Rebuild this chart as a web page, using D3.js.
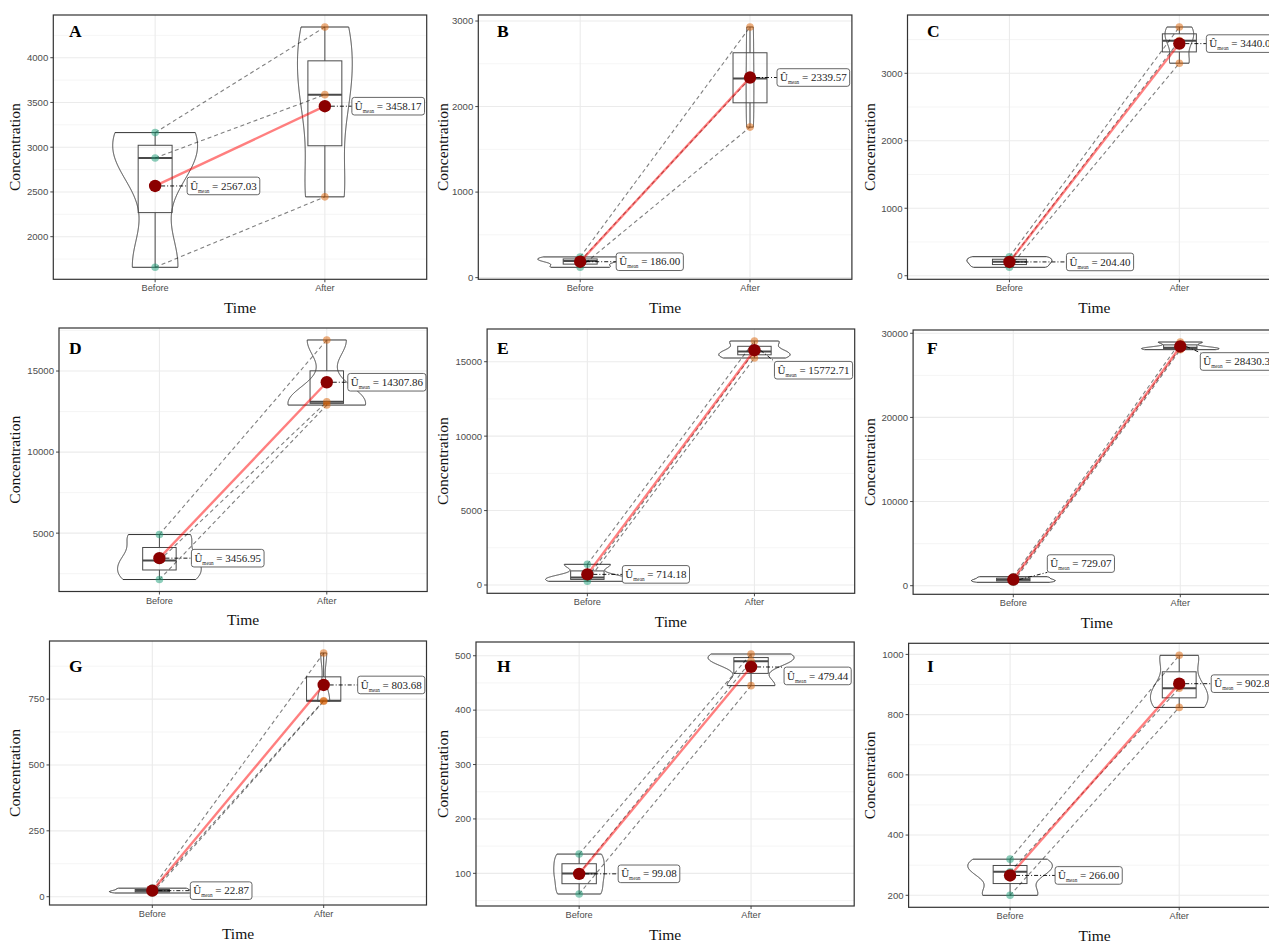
<!DOCTYPE html>
<html><head><meta charset="utf-8">
<script src="https://cdn.jsdelivr.net/npm/d3@7"></script>
<style>body{margin:0;background:#fff} svg{display:block}</style>
</head><body>
<svg id="chart" width="1269" height="942"></svg>
<script>
// ---------------- data ----------------
const panelLetters = ["A","B","C","D","E","F","G","H","I"];
const categories = ["Before","After"];
const beforeValues = [
  [1658, 2880, 3163],
  [121, 195, 242],
  [125, 206.2, 282],
  [2140, 3315.9, 4915],
  [250, 501.5, 1391],
  [406, 712.2, 1069],
  [14, 22.26, 32.35],
  [62, 99.84, 135.4],
  [200, 278, 320]
];
const afterValues = [
  [2445, 3587, 4343],
  [1760, 2328, 2930],
  [3150, 3484, 3686],
  [12900, 13108.6, 16915],
  [15248, 15680, 16390],
  [28050, 28279, 28962],
  [742, 744, 925],
  [445, 490.1, 503.2],
  [824, 887.4, 997]
];
const beforeMeans = [2567.03, 186.00, 204.40, 3456.95, 714.18, 729.07, 22.87, 99.08, 266.00];
const afterMeans  = [3458.17, 2339.57, 3440.00, 14307.86, 15772.71, 28430.30, 803.68, 479.44, 902.80];
const yTicks = [
  [2000, 2500, 3000, 3500, 4000],
  [0, 1000, 2000, 3000],
  [0, 1000, 2000, 3000],
  [5000, 10000, 15000],
  [0, 5000, 10000, 15000],
  [0, 10000, 20000, 30000],
  [0, 250, 500, 750],
  [100, 200, 300, 400, 500],
  [200, 400, 600, 800, 1000]
];
const xTitle = "Time";
const yTitle = "Concentration";

// ---------------- layout ----------------
const frames = [
  {l:53.3, t:15,    r:426.7,  b:279.3},
  {l:478.3,t:15,    r:851.9,  b:279.3},
  {l:907.5,t:15,    r:1281.3, b:279.3},
  {l:59.0, t:328,   r:427.2,  b:591.5},
  {l:487.1,t:329,   r:854.7,  b:593.3},
  {l:913.1,t:330,   r:1280.5, b:594.3},
  {l:49.5, t:641,   r:426.5,  b:905},
  {l:476.0,t:642,   r:854.2,  b:906},
  {l:908.6,t:643.3, r:1280.7, b:907.3}
];
const labelDx = [[32,27],[36,27],[57,27],[32,21],[35,20],[34,20],[38,34],[39,33],[45,32]];
const labelDy = [[0,0],[0,0],[0,0],[0,0],[0,20],[-16,15],[0,0],[0,9],[0,0]];
const letterX = [69, 497, 927];
const letterY = [36.7, 354.3, 671.7];
const yTitleX = [15, 442.7, 869.3];

const SERIF = "'Liberation Serif','DejaVu Serif',serif";
const SANS = "'Liberation Sans',Arial,sans-serif";
const groupColors = ["#1b9e77", "#d95f02"];

const svg = d3.select("#chart");
svg.append("rect").attr("width",1269).attr("height",942).attr("fill","#fff");

function bwNrd0(v){
  const s = d3.deviation(v);
  const sorted = v.slice().sort(d3.ascending);
  const iqr = d3.quantileSorted(sorted,0.75) - d3.quantileSorted(sorted,0.25);
  let lo = Math.min(s, iqr/1.34);
  if (!lo) lo = s || Math.abs(sorted[0]) || 1;
  return 0.9 * lo * Math.pow(v.length, -0.2);
}
function kde(v, bw, n){
  const [a,b] = d3.extent(v);
  return d3.range(n).map(k => {
    const t = a + (b-a)*k/(n-1);
    const d = d3.mean(v, xi => Math.exp(-0.5*((t-xi)/bw)**2)) / (bw*Math.sqrt(2*Math.PI));
    return [t, d];
  });
}

panelLetters.forEach((letter, i) => {
  const row = Math.floor(i/3), col = i % 3;
  const f = frames[i];
  const groups = [beforeValues[i], afterValues[i]];
  const means = [beforeMeans[i], afterMeans[i]];

  const x = d3.scalePoint().domain(categories).range([f.l, f.r]).padding(0.6);
  const unit = x.step();
  const all = groups[0].concat(groups[1]);
  const [mn, mx] = d3.extent(all);
  const pad = (mx - mn) * 0.05;
  const y = d3.scaleLinear().domain([mn - pad, mx + pad]).range([f.b, f.t]);

  const g = svg.append("g");
  const clipId = "clip" + i;
  g.append("clipPath").attr("id", clipId).append("rect")
    .attr("x", f.l).attr("y", f.t).attr("width", f.r - f.l).attr("height", f.b - f.t);
  const p = g.append("g").attr("clip-path", `url(#${clipId})`);

  // gridlines
  const ticks = yTicks[i];
  const step = ticks[1] - ticks[0];
  const dom = y.domain();
  const minors = [];
  for (let v = ticks[0] - step/2; v <= dom[1]; v += step) if (v >= dom[0]) minors.push(v);
  p.selectAll(".minor").data(minors).join("line")
    .attr("x1", f.l).attr("x2", f.r).attr("y1", d => y(d)).attr("y2", d => y(d))
    .attr("stroke", "#f3f3f3").attr("stroke-width", 0.8);
  p.selectAll(".major").data(ticks).join("line")
    .attr("x1", f.l).attr("x2", f.r).attr("y1", d => y(d)).attr("y2", d => y(d))
    .attr("stroke", "#ebebeb").attr("stroke-width", 1.1);
  p.selectAll(".vmajor").data(categories).join("line")
    .attr("x1", d => x(d)).attr("x2", d => x(d)).attr("y1", f.t).attr("y2", f.b)
    .attr("stroke", "#ebebeb").attr("stroke-width", 1.1);

  // violins (scale = area, width 0.5)
  const dens = groups.map(v => kde(v, bwNrd0(v), 512));
  const maxD = d3.max(dens, dd => d3.max(dd, q => q[1]));
  dens.forEach((dd, gi) => {
    const cx = x(categories[gi]);
    const hw = q => 0.25 * unit * q[1] / maxD;
    const area = d3.area().y(q => y(q[0])).x0(q => cx - hw(q)).x1(q => cx + hw(q));
    p.append("path").attr("d", area(dd))
      .attr("fill", "none").attr("stroke", "#333").attr("stroke-width", 1);
  });

  // boxplots (width 0.2)
  groups.forEach((v, gi) => {
    const cx = x(categories[gi]);
    const s = v.slice().sort(d3.ascending);
    const q1 = d3.quantileSorted(s, 0.25), med = d3.quantileSorted(s, 0.5), q3 = d3.quantileSorted(s, 0.75);
    const iqr = q3 - q1;
    const lowW = d3.min(s.filter(d => d >= q1 - 1.5*iqr));
    const hiW = d3.max(s.filter(d => d <= q3 + 1.5*iqr));
    const bw = 0.1 * unit;
    const bg = p.append("g").attr("stroke", "#4a4a4a").attr("fill", "none");
    bg.append("line").attr("x1", cx).attr("x2", cx).attr("y1", y(q3)).attr("y2", y(hiW)).attr("stroke-width", 1);
    bg.append("line").attr("x1", cx).attr("x2", cx).attr("y1", y(q1)).attr("y2", y(lowW)).attr("stroke-width", 1);
    bg.append("rect").attr("x", cx - bw).attr("width", 2*bw)
      .attr("y", y(q3)).attr("height", Math.max(0.5, y(q1) - y(q3))).attr("stroke-width", 1);
    bg.append("line").attr("x1", cx - bw).attr("x2", cx + bw).attr("y1", y(med)).attr("y2", y(med)).attr("stroke-width", 2);
  });

  // paired dashed paths
  groups[0].forEach((v, k) => {
    p.append("line")
      .attr("x1", x(categories[0])).attr("y1", y(v))
      .attr("x2", x(categories[1])).attr("y2", y(groups[1][k]))
      .attr("stroke", "#000").attr("stroke-opacity", 0.5).attr("stroke-width", 1.1)
      .attr("stroke-dasharray", "4,3");
  });

  // raw points
  groups.forEach((v, gi) => {
    p.selectAll(null).data(v).join("circle")
      .attr("cx", x(categories[gi])).attr("cy", d => y(d)).attr("r", 3.8)
      .attr("fill", groupColors[gi]).attr("fill-opacity", 0.5);
  });

  // mean path + points
  p.append("line")
    .attr("x1", x(categories[0])).attr("y1", y(means[0]))
    .attr("x2", x(categories[1])).attr("y2", y(means[1]))
    .attr("stroke", "red").attr("stroke-opacity", 0.5).attr("stroke-width", 2.4);
  means.forEach((m, gi) => {
    p.append("circle").attr("cx", x(categories[gi])).attr("cy", y(m)).attr("r", 6.2).attr("fill", "#8b0000");
  });

  // mean labels
  means.forEach((m, gi) => {
    const cx = x(categories[gi]), cy = y(m);
    const left = cx + labelDx[i][gi];
    const midY = cy + labelDy[i][gi];
    const lg = p.append("g");
    const seg = lg.append("line");
    const rect = lg.append("rect");
    const t = lg.append("text").attr("x", left + 3).attr("y", midY + 3.6)
      .attr("font-family", SERIF).attr("font-size", 11).attr("fill", "#222");
    t.append("tspan").text("Û");
    t.append("tspan").attr("font-size", 5.2).attr("dy", 3).text("mean");
    t.append("tspan").attr("dy", -3).text(" = " + m.toFixed(2));
    const w = t.node().getComputedTextLength();
    const h = 17.6;
    rect.attr("x", left).attr("y", midY - h/2).attr("width", w + 6).attr("height", h)
      .attr("rx", 2.5).attr("fill", "#fff").attr("stroke", "#555").attr("stroke-width", 0.9);
    const ey = Math.max(midY - h/2, Math.min(midY + h/2, cy));
    seg.attr("x1", cx + 6).attr("y1", cy).attr("x2", left).attr("y2", ey)
      .attr("stroke", "#000").attr("stroke-width", 0.9).attr("stroke-dasharray", "4,2,1,2");
  });

  // frame
  g.append("rect").attr("x", f.l).attr("y", f.t).attr("width", f.r - f.l).attr("height", f.b - f.t)
    .attr("fill", "none").attr("stroke", "#333").attr("stroke-width", 1.2);

  // y axis ticks + labels
  g.selectAll(".yt").data(ticks).join("line")
    .attr("x1", f.l - 3).attr("x2", f.l).attr("y1", d => y(d)).attr("y2", d => y(d))
    .attr("stroke", "#333").attr("stroke-width", 0.9);
  g.selectAll(".yl").data(ticks).join("text")
    .attr("x", f.l - 5).attr("y", d => y(d)).attr("dy", "0.35em")
    .attr("text-anchor", "end").attr("font-family", SANS).attr("font-size", 9.6)
    .attr("fill", "#4d4d4d").text(d => d);
  // x axis ticks + labels
  g.selectAll(".xt").data(categories).join("line")
    .attr("x1", d => x(d)).attr("x2", d => x(d)).attr("y1", f.b).attr("y2", f.b + 3)
    .attr("stroke", "#333").attr("stroke-width", 0.9);
  g.selectAll(".xl").data(categories).join("text")
    .attr("x", d => x(d)).attr("y", f.b + 12).attr("text-anchor", "middle")
    .attr("font-family", SANS).attr("font-size", 9.2).attr("fill", "#4d4d4d").text(d => d);

  // axis titles
  g.append("text").attr("x", (f.l + f.r)/2).attr("y", f.b + 33.5).attr("text-anchor", "middle")
    .attr("font-family", SERIF).attr("font-size", 15.5).attr("fill", "#111").text(xTitle);
  g.append("text").attr("transform", `translate(${yTitleX[col]},${(f.t + f.b)/2}) rotate(-90)`)
    .attr("dy", "0.35em").attr("text-anchor", "middle")
    .attr("font-family", SERIF).attr("font-size", 15.5).attr("fill", "#111").text(yTitle);

  // panel letter
  g.append("text").attr("x", letterX[col]).attr("y", letterY[row])
    .attr("font-family", SERIF).attr("font-weight", "bold").attr("font-size", 17.5)
    .attr("fill", "#000").text(letter);
});
</script>
</body></html>
